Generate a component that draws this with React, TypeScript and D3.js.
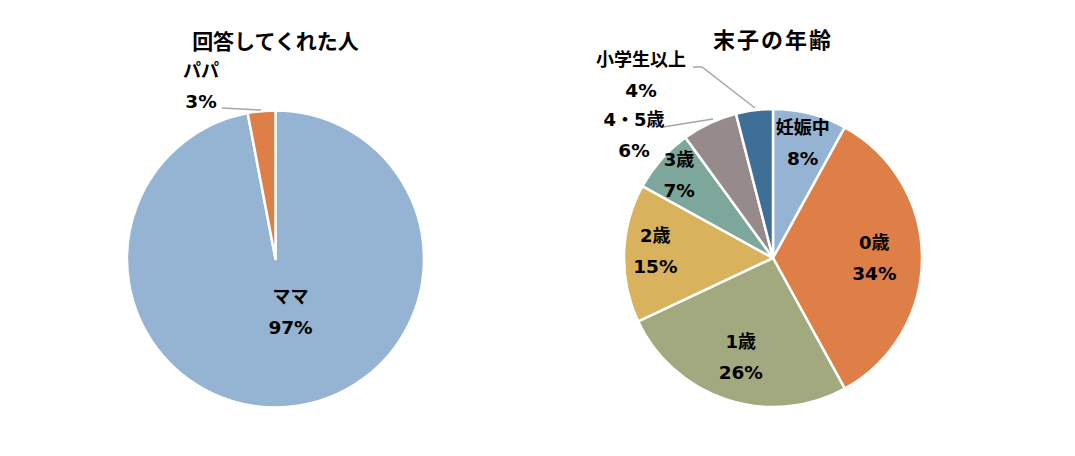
import React from "react";
import * as d3 from "d3";

const W = 1075;
const H = 456;

// Left chart data
const leftTitle = "回答してくれた人";
const leftCategories = ["ママ", "パパ"];
const leftValues = [97, 3];
const leftColors = ["#95B4D3", "#DE7F48"];

// Right chart data
const rightTitle = "末子の年齢";
const rightCategories = ["妊娠中", "0歳", "1歳", "2歳", "3歳", "4・5歳", "小学生以上"];
const rightValues = [8, 34, 26, 15, 7, 6, 4];
const rightColors = ["#95B4D3", "#DE7F48", "#A3A97E", "#D9B25D", "#7DA79B", "#968B8A", "#3F6E97"];

type LabelLayout =
  | { kind: "in"; r: number; dx?: number; dy?: number }
  | { kind: "out"; x: number; y: number; line: [number, number][] };

interface PieSpec {
  title: string;
  titleY: number;
  titleSize: number;
  titleSpacing: number;
  cx: number;
  cy: number;
  r: number;
  categories: string[];
  values: number[];
  colors: string[];
  labels: LabelLayout[];
}

const TITLE_FONT = "'Noto Sans CJK JP', 'Noto Sans', sans-serif";
const LABEL_FONT = "'DejaVu Sans', 'Noto Sans CJK JP', sans-serif";

function Pie({ spec }: { spec: PieSpec }) {
  const pie = d3
    .pie<number>()
    .sort(null)
    .value((d) => d)
    .startAngle(0)
    .endAngle(2 * Math.PI);
  const arcs = pie(spec.values);
  const arc = d3.arc<d3.PieArcDatum<number>>().innerRadius(0).outerRadius(spec.r);
  const lineGap = 31;
  return (
    <g>
      <text
        x={spec.cx}
        y={spec.titleY}
        textAnchor="middle"
        dominantBaseline="central"
        fontFamily={TITLE_FONT}
        fontWeight="bold"
        fontSize={spec.titleSize}
        letterSpacing={spec.titleSpacing}
        fill="#000"
      >
        {spec.title}
      </text>
      <g transform={`translate(${spec.cx},${spec.cy})`}>
        {arcs.map((a, i) => (
          <path key={i} d={arc(a) || ""} fill={spec.colors[i]} stroke="#fff" strokeWidth={2.5} strokeLinejoin="round" />
        ))}
      </g>
      {arcs.map((a, i) => {
        const lay = spec.labels[i];
        let x: number, y: number;
        let line: React.ReactNode = null;
        if (lay.kind === "in") {
          const mid = (a.startAngle + a.endAngle) / 2;
          x = spec.cx + Math.sin(mid) * spec.r * lay.r + (lay.dx || 0);
          y = spec.cy - Math.cos(mid) * spec.r * lay.r + (lay.dy || 0);
        } else {
          x = lay.x;
          y = lay.y;
          const pts = lay.line.map((p) => p.join(",")).join(" ");
          line = <polyline points={pts} fill="none" stroke="#A6A6A6" strokeWidth={1.5} />;
        }
        return (
          <g key={"l" + i}>
            {line}
            <text
              x={x}
              y={y - lineGap / 2}
              textAnchor="middle"
              dominantBaseline="central"
              fontFamily={LABEL_FONT}
              fontWeight="bold"
              fontSize={18}
              fill="#000"
            >
              {spec.categories[i]}
            </text>
            <text
              x={x}
              y={y + lineGap / 2}
              textAnchor="middle"
              dominantBaseline="central"
              fontFamily={LABEL_FONT}
              fontWeight="bold"
              fontSize={18.5}
              fill="#000"
            >
              {spec.values[i] + "%"}
            </text>
          </g>
        );
      })}
    </g>
  );
}

export default function App() {
  const left: PieSpec = {
    title: leftTitle,
    titleY: 40,
    titleSize: 21,
    titleSpacing: 0,
    cx: 275.5,
    cy: 259,
    r: 148.5,
    categories: leftCategories,
    values: leftValues,
    colors: leftColors,
    labels: [
      { kind: "in", r: 0.36, dx: 10, dy: 0 },
      {
        kind: "out",
        x: 201,
        y: 86,
        line: [
          [222, 108],
          [261, 110],
        ],
      },
    ],
  };
  const right: PieSpec = {
    title: rightTitle,
    titleY: 38,
    titleSize: 22,
    titleSpacing: 2,
    cx: 773,
    cy: 258,
    r: 149,
    categories: rightCategories,
    values: rightValues,
    colors: rightColors,
    labels: [
      { kind: "in", r: 0.8 },
      { kind: "in", r: 0.68 },
      { kind: "in", r: 0.7 },
      { kind: "in", r: 0.79, dy: -3 },
      { kind: "in", r: 0.84 },
      {
        kind: "out",
        x: 634,
        y: 135,
        line: [
          [663, 127],
          [713, 119],
        ],
      },
      {
        kind: "out",
        x: 641,
        y: 75,
        line: [
          [693, 67],
          [702, 67],
          [755, 108],
        ],
      },
    ],
  };
  return (
    <svg
      width={W}
      height={H}
      viewBox={`0 0 ${W} ${H}`}
      style={{ position: "absolute", left: 0, top: 0, background: "#fff" }}
    >
      <rect width={W} height={H} fill="#fff" />
      <Pie spec={left} />
      <Pie spec={right} />
    </svg>
  );
}
